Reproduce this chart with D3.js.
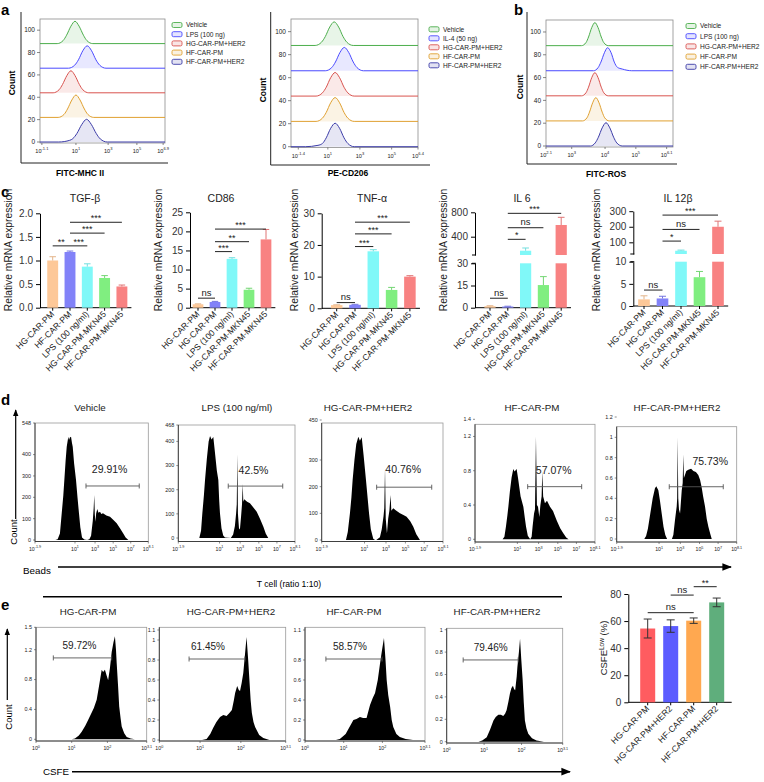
<!DOCTYPE html>
<html><head><meta charset="utf-8">
<script src="https://cdn.jsdelivr.net/npm/d3@7"></script>
<style>
body{margin:0;background:#fff}
text{font-family:"Liberation Sans",Arial,Helvetica,sans-serif}
</style></head>
<body><svg id="fig" width="764" height="782" xmlns="http://www.w3.org/2000/svg"></svg>
<script>
// ================= DATA =================
const overlayNamesLPS = ["Vehicle","LPS (100 ng)","HG-CAR-PM+HER2","HF-CAR-PM","HF-CAR-PM+HER2"];
const overlayNamesIL4 = ["Vehicle","IL-4 (50 ng)","HG-CAR-PM+HER2","HF-CAR-PM","HF-CAR-PM+HER2"];
const overlayColors = ["#4cae4c","#4a4aff","#d9534f","#e0a030","#3c3ca8"];
const overlayOffsets = [88,66,44,22,0];
const yTicksOverlay = [0,20,40,60,80,100];

const mhcCurves = [
 [[0,0],[0.55,0],[0.74,2.7],[0.85,7.5],[0.99,15.6],[1.12,20],[1.25,15.6],[1.39,7.5],[1.50,2.7],[1.69,0],[4,0]],
 [[0,0],[0.91,0],[1.11,2.7],[1.23,7.5],[1.37,15.6],[1.51,20],[1.65,15.6],[1.79,7.5],[1.91,2.7],[2.11,0],[4,0]],
 [[0,0],[0.42,0],[0.61,2.7],[0.72,7.4],[0.86,15.4],[0.99,19.7],[1.12,15.4],[1.26,7.4],[1.37,2.7],[1.56,0],[4,0]],
 [[0,0],[0.58,0],[0.77,2.7],[0.88,7.5],[1.02,15.6],[1.15,20],[1.28,15.6],[1.42,7.5],[1.53,2.7],[1.72,0],[4,0]],
 [[0,0],[0.6,0],[0.95,1.5],[1.05,3],[1.18,7.6],[1.34,15.8],[1.49,20.3],[1.64,15.8],[1.80,7.6],[1.93,2.7],[2.15,0],[4,0]]
];
const cd206Curves = [
 [[0,0],[0.76,0],[0.96,2.8],[1.08,7.7],[1.22,16],[1.36,20.5],[1.50,16],[1.64,7.7],[1.76,2.8],[1.96,0],[4,0]],
 [[0,0],[1.08,0],[1.28,2.7],[1.40,7.6],[1.54,15.8],[1.68,20.3],[1.82,15.8],[1.96,7.6],[2.08,2.7],[2.28,0],[4,0]],
 [[0,0],[0.79,0],[0.99,2.8],[1.11,7.7],[1.25,16],[1.39,20.5],[1.53,16],[1.67,7.7],[1.79,2.8],[1.99,0],[4,0]],
 [[0,0],[0.79,0],[0.99,2.8],[1.11,7.8],[1.25,16.2],[1.39,20.7],[1.53,16.2],[1.67,7.8],[1.79,2.8],[1.99,0],[4,0]],
 [[0,0],[0.45,0],[0.85,1.2],[0.99,2.8],[1.11,7.7],[1.25,16],[1.39,20.4],[1.53,16],[1.67,7.7],[1.79,2.8],[1.99,0],[4,0]]
];
const rosCurves = [
 [[0,0],[1.12,0],[1.26,2.7],[1.34,7.6],[1.44,15.8],[1.54,20.2],[1.64,15.8],[1.74,7.6],[1.82,2.7],[1.96,0],[4,0]],
 [[0,0],[1.5,0],[1.64,2.7],[1.73,7.6],[1.84,15.8],[1.94,20.2],[2.05,15.8],[2.15,7.6],[2.25,3],[2.4,1.5],[2.7,0],[4,0]],
 [[0,0],[1.12,0],[1.26,2.7],[1.34,7.6],[1.44,15.9],[1.54,20.3],[1.64,15.9],[1.74,7.6],[1.82,2.7],[1.96,0],[4,0]],
 [[0,0],[1.15,0],[1.29,2.7],[1.37,7.7],[1.47,15.9],[1.57,20.4],[1.67,15.9],[1.77,7.7],[1.85,2.7],[1.99,0],[4,0]],
 [[0,0],[1.4,0],[1.55,2.7],[1.65,7.7],[1.77,15.9],[1.89,20.4],[2.01,15.9],[2.13,7.7],[2.23,2.7],[2.4,0],[4,0]]
];
const mhcTickVals = [0.06,1.15,2.18,3.1,3.94];
const mhcTickLabs = ["10^-1.1","10^1","10^3","10^5","10^6.9"];
const cd206TickVals = [0.23,1.16,2.17,3.17,4.0];
const cd206TickLabs = ["10^-1.4","10^1","10^3","10^5","10^6.4"];
const rosTickVals = [0,0.81,1.86,2.83,3.8];
const rosTickLabs = ["10^2.1","10^3","10^4","10^5","10^6.1"];

const qCats1 = ["HG-CAR-PM","HF-CAR-PM","LPS (100 ng/ml)","HG-CAR-PM-MKN45","HF-CAR-PM-MKN45"];
const qCats2 = ["HG-CAR-PM","HG-CAR-PM","LPS (100 ng/ml)","HG-CAR-PM-MKN45","HF-CAR-PM-MKN45"];
const qColors = ["#fdc898","#8282f8","#80f8f8","#80ee80","#f88282"];
const tgfVals = [1.0,1.18,0.87,0.63,0.45];
const tgfErrs = [0.08,0.02,0.06,0.05,0.03];
const cd86Vals = [0.9,1.5,12.8,4.7,17.9];
const cd86Errs = [0.1,0.15,0.3,0.4,2.6];
const tnfVals = [1.0,1.1,18.0,5.8,10.0];
const tnfErrs = [0.1,0.15,0.5,0.8,0.3];
const il6Vals = [1.0,0.8,170,15.3,592];
const il6Errs = [0.3,0.2,45,5.7,126];
const il12Vals = [1.5,1.7,46,6.5,200];
const il12Errs = [0.8,0.5,4,1.3,36];
const tgfSig = [[0,1,1.31,"**"],[1,2,1.31,"***"],[1,3,1.58,"***"],[1,4,1.81,"***"]];
const cd86Sig = [[0,1,2.5,"ns"],[1,2,14.7,"***"],[1,3,17.3,"**"],[1,4,20.6,"***"]];
const tnfSig = [[0,1,1.8,"ns"],[1,2,19.5,"***"],[1,3,23.5,"***"],[1,4,27.2,"***"]];
const il6Sig = [[0,1,6.4,"ns"],[1,2,357,"*"],[1,3,547,"ns"],[1,4,783,"***"]];
const il12Sig = [[0,1,3.6,"ns"],[1,2,108,"*"],[1,3,183,"ns"],[1,4,275,"***"]];

const dTitles = ["Vehicle","LPS (100 ng/ml)","HG-CAR-PM+HER2","HF-CAR-PM","HF-CAR-PM+HER2"];
const dPercents = ["29.91%","42.5%","40.76%","57.07%","75.73%"];
const dTickVals = [0,3.53,5.3,6.9,8.45,10];
const dTickLabs = ["10^-1.9","10^1","10^3","10^5","10^7","10^8.1"];
const dYMax = [548,468,450,1.4,1.2];
const dYTicks = [[0,100,200,300,400,548],[0,100,200,300,400,468],[0,100,200,300,450],[0,0.4,0.8,1.2,1.4],[0,0.2,0.4,0.6,0.8,1,1.2]];
const dGates = [[4.5,9.2,253],[4.28,8.95,215],[4.53,9.07,198],[4.39,8.89,0.614],[4.38,8.88,0.514]];
const dHist = [
 [[0,0],[1.8,0],[2.0,3],[2.2,30],[2.36,126],[2.5,210],[2.59,281],[2.7,370],[2.8,437],[2.94,484],[3.0,468],[3.08,480],[3.18,484],[3.26,455],[3.33,437],[3.45,360],[3.62,281],[3.75,200],[3.88,126],[4.0,60],[4.15,12],[4.35,2],[4.6,0],[4.8,3],[4.95,20],[5.1,90],[5.18,150],[5.23,211],[5.28,120],[5.33,85],[5.4,125],[5.5,145],[5.6,128],[5.74,132],[5.85,122],[6.0,125],[6.3,115],[6.62,109],[6.9,95],[7.21,78],[7.5,55],[7.79,31],[8.0,12],[8.24,0],[10,0]],
 [[0,0],[1.8,0],[1.95,30],[2.06,102],[2.2,180],[2.29,240],[2.45,330],[2.6,400],[2.72,422],[2.85,408],[3.0,418],[3.15,350],[3.3,280],[3.43,240],[3.5,160],[3.57,102],[3.7,40],[3.85,10],[4.0,2],[4.5,0],[4.7,15],[4.85,50],[4.95,100],[5.01,140],[5.06,347],[5.11,100],[5.2,40],[5.28,35],[5.38,90],[5.46,140],[5.52,224],[5.57,150],[5.65,160],[5.72,157],[5.9,150],[6.14,144],[6.4,128],[6.72,109],[7.0,80],[7.29,47],[7.5,18],[7.71,0],[10,0]],
 [[0,0],[2.0,0],[2.15,30],[2.33,101],[2.45,160],[2.55,225],[2.7,300],[2.85,360],[3.02,387],[3.15,372],[3.3,385],[3.45,320],[3.65,225],[3.78,160],[3.9,101],[4.05,40],[4.25,5],[4.4,0],[4.5,0],[4.8,10],[4.95,40],[5.1,90],[5.16,120],[5.22,269],[5.28,80],[5.38,25],[5.48,80],[5.58,110],[5.68,169],[5.74,110],[5.9,119],[6.1,112],[6.45,100],[6.7,95],[7.0,87],[7.3,70],[7.55,50],[7.8,22],[8.1,0],[10,0]],
 [[0,0],[2.3,0],[2.45,0.03],[2.58,0.15],[2.7,0.28],[2.78,0.38],[2.9,0.55],[3.05,0.72],[3.19,0.82],[3.3,0.79],[3.47,0.82],[3.6,0.7],[3.8,0.5],[4.03,0.38],[4.15,0.25],[4.25,0.15],[4.4,0.04],[4.6,0],[4.72,0.03],[4.8,0.15],[4.92,0.3],[5.0,0.35],[5.08,1.2],[5.16,0.4],[5.25,0.38],[5.36,0.26],[5.45,0.4],[5.55,0.5],[5.61,0.79],[5.68,0.5],[5.83,0.42],[6.0,0.45],[6.25,0.38],[6.5,0.33],[6.81,0.22],[7.1,0.13],[7.36,0.07],[7.6,0.02],[7.8,0],[10,0]],
 [[0,0],[2.3,0],[2.45,0.03],[2.6,0.1],[2.8,0.25],[3.0,0.4],[3.19,0.5],[3.3,0.52],[3.47,0.48],[3.6,0.38],[3.75,0.25],[3.9,0.12],[4.05,0.04],[4.2,0],[4.6,0],[4.72,0.04],[4.86,0.19],[5.0,0.32],[5.04,0.4],[5.08,1.0],[5.13,0.4],[5.19,0.29],[5.28,0.25],[5.42,0.48],[5.5,0.55],[5.55,0.83],[5.6,0.6],[5.69,0.63],[5.8,0.67],[5.97,0.68],[6.2,0.69],[6.39,0.67],[6.6,0.66],[6.8,0.63],[6.95,0.58],[7.08,0.51],[7.2,0.42],[7.36,0.32],[7.5,0.2],[7.64,0.12],[7.8,0.05],[7.92,0],[10,0]]
];

const eTitles = ["HG-CAR-PM","HG-CAR-PM+HER2","HF-CAR-PM","HF-CAR-PM+HER2"];
const ePercents = ["59.72%","61.45%","58.57%","79.46%"];
const eTickVals = [0,1,2,3.1];
const eTickLabs = ["10^0","10^1","10^2","10^3.1"];
const eYMax = [1.5,1.1,1.1,1.0];
const eYTicks = [[0,0.4,0.8,1.2,1.5],[0,0.2,0.4,0.6,0.8,1,1.1],[0,0.2,0.4,0.6,0.8,1.1],[0,0.2,0.4,0.6,0.8,1]];
const eGates = [[0.485,2.12,1.09],[0.73,2.1,0.81],[0.54,1.99,0.81],[0.44,1.91,0.73]];
const eHist = [
 [[0,0],[1.0,0],[1.09,0.01],[1.2,0.05],[1.28,0.1],[1.38,0.18],[1.46,0.26],[1.55,0.35],[1.62,0.42],[1.70,0.53],[1.76,0.7],[1.84,0.93],[1.88,0.9],[1.93,0.93],[1.98,0.85],[2.02,0.79],[2.07,0.95],[2.12,1.17],[2.17,1.3],[2.21,1.38],[2.24,1.2],[2.26,1.02],[2.3,0.7],[2.33,0.44],[2.37,0.28],[2.40,0.17],[2.47,0.08],[2.54,0.03],[2.65,0.01],[2.77,0],[3.1,0]],
 [[0,0],[1.05,0],[1.16,0.01],[1.25,0.06],[1.32,0.12],[1.4,0.18],[1.49,0.23],[1.57,0.25],[1.65,0.24],[1.72,0.27],[1.78,0.3],[1.83,0.4],[1.86,0.47],[1.91,0.54],[1.95,0.5],[1.98,0.49],[2.02,0.57],[2.06,0.67],[2.1,0.85],[2.14,1.03],[2.18,0.8],[2.21,0.6],[2.24,0.4],[2.27,0.27],[2.31,0.18],[2.35,0.13],[2.45,0.05],[2.55,0.02],[2.7,0],[3.1,0]],
 [[0,0],[0.8,0],[0.9,0.01],[1.05,0.06],[1.15,0.13],[1.25,0.2],[1.33,0.21],[1.42,0.23],[1.5,0.22],[1.59,0.22],[1.68,0.35],[1.75,0.42],[1.81,0.47],[1.88,0.6],[1.94,0.77],[1.99,0.9],[2.04,1.02],[2.08,0.8],[2.11,0.6],[2.15,0.45],[2.2,0.33],[2.24,0.2],[2.28,0.13],[2.36,0.06],[2.45,0.03],[2.6,0.01],[2.79,0],[3.1,0]],
 [[0,0],[0.85,0],[0.95,0.01],[1.07,0.04],[1.16,0.11],[1.25,0.19],[1.31,0.22],[1.38,0.24],[1.45,0.24],[1.51,0.23],[1.56,0.25],[1.6,0.28],[1.65,0.36],[1.69,0.43],[1.73,0.48],[1.77,0.5],[1.8,0.47],[1.83,0.46],[1.87,0.58],[1.89,0.67],[1.93,0.8],[1.96,0.92],[1.99,0.75],[2.03,0.55],[2.06,0.35],[2.09,0.19],[2.13,0.12],[2.18,0.07],[2.28,0.03],[2.4,0.01],[2.6,0],[3.1,0]]
];
const csfeCats = ["HG-CAR-PM","HG-CAR-PM+HER2","HF-CAR-PM","HF-CAR-PM+HER2"];
const csfeVals = [54.5,56.3,60.3,73.8];
const csfeErrs = [7,4.6,2,3.2];
const csfeColors = ["#ff5c60","#5c5cff","#ffa850","#5fae7c"];
const csfeSig = [[0,2,66.2,"ns"],[1,2,79.2,"ns"],[2,3,85.4,"**"]];
const csfeTicks = [0,20,40,60,80];

// ================= DRAWING =================
const svg = d3.select("#fig");
const defs = svg.append("defs");
defs.append("marker").attr("id","arr").attr("viewBox","0 0 10 10").attr("refX",9).attr("refY",5)
  .attr("markerWidth",6).attr("markerHeight",6).attr("markerUnits","strokeWidth").attr("orient","auto")
  .append("path").attr("d","M0,1 L10,5 L0,9 z").attr("fill","#000");

function supText(g, x, y, lab, size, anchor){
  const parts = lab.split("^");
  const t = g.append("text").attr("x",x).attr("y",y).attr("font-size",size)
    .attr("text-anchor",anchor||"middle").attr("fill","#222");
  t.append("tspan").text(parts[0]);
  if(parts.length>1) t.append("tspan").attr("dy",-size*0.45).attr("font-size",size*0.72).text(parts[1]);
  return t;
}
function panelLetter(ch,x,y){
  svg.append("text").attr("x",x).attr("y",y).attr("font-size",15).attr("font-weight","bold").text(ch);
}
function line(g,x1,y1,x2,y2,stroke,w){
  return g.append("line").attr("x1",x1).attr("y1",y1).attr("x2",x2).attr("y2",y2)
    .attr("stroke",stroke||"#000").attr("stroke-width",w||1);
}
function styleAxis(ax){
  ax.select(".domain").attr("stroke","#000").attr("stroke-width",1);
  ax.selectAll(".tick line").attr("stroke","#000").attr("stroke-width",1);
  ax.selectAll(".tick text").attr("font-size",10).attr("fill","#333").attr("font-family",'"Liberation Sans",Arial,sans-serif');
}

// ---------- overlays (a, b)
function drawOverlay(P){
  const g = svg.append("g");
  const [bx0,bx1,by0,by1] = P.box;
  const x = d3.scaleLinear().domain([0,4]).range([bx0,bx1]);
  const y = d3.scaleLinear().domain([0,P.ymax]).range([P.zeroY,by0]);
  line(g,P.outer[0],P.outer[1],P.outer[0],P.outer[2],"#222",1);
  line(g,P.outer[0],P.outer[2],P.outer[3],P.outer[2],"#222",1);
  g.append("rect").attr("x",bx0).attr("y",by0).attr("width",bx1-bx0).attr("height",by1-by0)
    .attr("fill","none").attr("stroke","#8c8c8c").attr("stroke-width",0.8);
  yTicksOverlay.forEach(v=>{
    line(g,bx0-3,y(v),bx0,y(v),"#555",0.7);
    g.append("text").attr("x",bx0-5).attr("y",y(v)).attr("dy","0.35em").attr("text-anchor","end")
      .attr("font-size",6.5).attr("fill","#222").text(v);
  });
  P.tv.forEach((v,i)=>{
    line(g,x(v),by1,x(v),by1+2,"#555",0.7);
    supText(g,x(v),by1+10,P.tl[i],5.6);
  });
  const area = d3.area().x(d=>x(d[0])).curve(d3.curveMonotoneX);
  const ln = d3.line().x(d=>x(d[0])).curve(d3.curveMonotoneX);
  P.curves.forEach((c,i)=>{
    const off = overlayOffsets[i];
    g.append("path").datum(c).attr("d",area.y0(y(off)).y1(d=>y(off+d[1])))
      .attr("fill",overlayColors[i]).attr("fill-opacity",0.13);
    g.append("path").datum(c).attr("d",ln.y(d=>y(off+d[1])))
      .attr("fill","none").attr("stroke",overlayColors[i]).attr("stroke-width",1);
  });
  P.names.forEach((n,i)=>{
    const ly = P.leg[1]+i*P.leg[2];
    g.append("rect").attr("x",P.leg[0]).attr("y",ly-2.5).attr("width",10).attr("height",5).attr("rx",1.5)
      .attr("fill",overlayColors[i]).attr("fill-opacity",0.15).attr("stroke",overlayColors[i]).attr("stroke-width",0.9);
    g.append("text").attr("x",P.leg[0]+14).attr("y",ly).attr("dy","0.35em").attr("font-size",6.6).attr("fill","#222").text(n);
  });
  g.append("text").attr("transform",`translate(${P.countX},${P.countY}) rotate(-90)`).attr("text-anchor","middle")
    .attr("font-size",8.5).attr("font-weight","bold").text("Count");
  g.append("text").attr("x",P.xlab[0]).attr("y",P.xlab[1]).attr("text-anchor","middle")
    .attr("font-size",8.5).attr("font-weight","bold").text(P.xlabel);
}
panelLetter("a",1,15);
drawOverlay({box:[40,165,19,143],ymax:110,zeroY:142,outer:[21,12,163,168],tv:mhcTickVals,tl:mhcTickLabs,
  curves:mhcCurves,names:overlayNamesLPS,leg:[172,25,9.2],countX:15,countY:83,xlab:[80,176],xlabel:"FITC-MHC II"});
drawOverlay({box:[291,418,19,147.5],ymax:111,zeroY:146.7,outer:[270.7,12,165,430],tv:cd206TickVals,tl:cd206TickLabs,
  curves:cd206Curves,names:overlayNamesIL4,leg:[429,29.3,9],countX:266,countY:90,xlab:[348,176],xlabel:"PE-CD206"});
panelLetter("b",514,15);
drawOverlay({box:[546,673,20,147],ymax:110.5,zeroY:146,outer:[527,12,164,677],tv:rosTickVals,tl:rosTickLabs,
  curves:rosCurves,names:overlayNamesLPS,leg:[686,26,10.2],countX:523,countY:87,xlab:[606,177],xlabel:"FITC-ROS"});

// ---------- bar charts (c)
function drawBars(C){
  const g = svg.append("g");
  const xc = i => C.x0 + C.first + i*C.step;
  const bw = C.step*0.63;
  const xEnd = xc(C.vals.length-1) + C.step*0.55;
  let ymap, yl, yu;
  if(!C.broken){
    const y = d3.scaleLinear().domain(C.domain).range([C.yBot,C.yTop]);
    ymap = v=>y(v);
    const ax = g.append("g").attr("transform",`translate(${C.x0},0)`)
      .call(d3.axisLeft(y).tickValues(C.ticks).tickFormat(C.fmt).tickSize(4).tickSizeOuter(0));
    styleAxis(ax);
  } else {
    const B = C.broken;
    yl = d3.scaleLinear().domain(B.low).range(B.lowR);
    yu = d3.scaleLinear().domain(B.up).range(B.upR);
    ymap = v => v<=B.low[1] ? yl(v) : yu(v);
    const a1 = g.append("g").attr("transform",`translate(${C.x0},0)`)
      .call(d3.axisLeft(yl).tickValues(B.lowT).tickSize(4).tickSizeOuter(0));
    const a2 = g.append("g").attr("transform",`translate(${C.x0},0)`)
      .call(d3.axisLeft(yu).tickValues(B.upT).tickSize(4).tickSizeOuter(0));
    styleAxis(a1); styleAxis(a2);
    line(g,C.x0-3,B.lowR[1],C.x0+1,B.lowR[1],"#000",1);
    line(g,C.x0-3,B.upR[0],C.x0+1,B.upR[0],"#000",1);
  }
  line(g,C.x0,C.yBot,xEnd,C.yBot,"#000",1);
  C.vals.forEach((v,i)=>{
    const cx = xc(i);
    line(g,cx,C.yBot,cx,C.yBot+3,"#000",1);
    const col = C.colors[i];
    if(!C.broken){
      g.append("rect").attr("x",cx-bw/2).attr("y",ymap(v)).attr("width",bw).attr("height",C.yBot-ymap(v)).attr("fill",col);
    } else {
      const B = C.broken;
      const vl = Math.min(v,B.low[1]);
      g.append("rect").attr("x",cx-bw/2).attr("y",yl(vl)).attr("width",bw).attr("height",C.yBot-yl(vl)).attr("fill",col);
      if(v>B.up[0]) g.append("rect").attr("x",cx-bw/2).attr("y",yu(v)).attr("width",bw).attr("height",B.upR[0]-yu(v)).attr("fill",col);
    }
    const ye = ymap(v+C.errs[i]);
    const ec = d3.color(col).darker(0.3).formatHex();
    line(g,cx,ymap(v),cx,ye,ec,1);
    line(g,cx-bw*0.3,ye,cx+bw*0.3,ye,ec,1);
    g.append("text").attr("transform",`translate(${cx+2},${C.yBot+7}) rotate(-45)`).attr("text-anchor","end")
      .attr("font-size",8.6).attr("fill","#222").text(C.cats[i]);
  });
  C.sig.forEach(s=>{
    const yy = ymap(s[2]);
    line(g,xc(s[0]),yy,xc(s[1]),yy,"#222",1);
    g.append("text").attr("x",(xc(s[0])+xc(s[1]))/2).attr("y",yy-(s[3]==="ns"?2.5:1)).attr("text-anchor","middle")
      .attr("font-size",s[3]==="ns"?9.5:9).attr("fill","#222").text(s[3]);
  });
  g.append("text").attr("x",C.titleX).attr("y",202).attr("text-anchor","middle").attr("font-size",10.5).attr("fill","#222").text(C.title);
  g.append("text").attr("transform",`translate(${C.labX},${C.labY||250}) rotate(-90)`).attr("text-anchor","middle")
    .attr("font-size",10.3).attr("fill","#222").text("Relative mRNA expression");
}
panelLetter("c",1,197);
drawBars({x0:40,first:12.7,step:17.3,yTop:213.3,yBot:307.7,domain:[0,2],ticks:[0,0.5,1,1.5,2],fmt:d3.format(".1f"),
  vals:tgfVals,errs:tgfErrs,colors:qColors,cats:qCats1,sig:tgfSig,title:"TGF-β",titleX:85,labX:12});
drawBars({x0:190,first:8,step:17,yTop:212.3,yBot:307.7,domain:[0,25],ticks:[0,5,10,15,20,25],fmt:d3.format("d"),
  vals:cd86Vals,errs:cd86Errs,colors:qColors,cats:qCats2,sig:cd86Sig,title:"CD86",titleX:221,labX:162});
drawBars({x0:321.7,first:15,step:18.3,yTop:213.3,yBot:308.3,domain:[0,30],ticks:[0,10,20,30],fmt:d3.format("d"),
  vals:tnfVals,errs:tnfErrs,colors:qColors,cats:qCats2,sig:tnfSig,title:"TNF-α",titleX:372,labX:298});
drawBars({x0:475,first:15,step:17.8,yBot:307.7,broken:{low:[0,30],lowR:[307.7,263.3],lowT:[0,15,30],up:[100,800],upR:[255,212.3],upT:[400,800]},
  vals:il6Vals,errs:il6Errs,colors:qColors,cats:qCats2,sig:il6Sig,title:"IL 6",titleX:522,labX:447});
drawBars({x0:633.3,first:10.7,step:18.5,yBot:306,broken:{low:[0,10],lowR:[306,261.7],lowT:[0,5,10],up:[25,300],upR:[254,211.2],upT:[100,200,300]},
  vals:il12Vals,errs:il12Errs,colors:qColors,cats:qCats2,sig:il12Sig,title:"IL 12β",titleX:678,labX:600});

// ---------- flow histograms (d, e)
function drawHist(H){
  const g = svg.append("g");
  const [bx0,bx1,by0,by1] = H.box;
  const x = d3.scaleLinear().domain(H.xdom).range([bx0,bx1]);
  const y = d3.scaleLinear().domain([0,H.ymax]).range([H.zeroY,H.topY]);
  g.append("path").datum(H.pts).attr("d",d3.area().x(d=>x(d[0])).y0(y(0)).y1(d=>y(d[1])))
    .attr("fill","#000");
  g.append("rect").attr("x",bx0).attr("y",by0).attr("width",bx1-bx0).attr("height",by1-by0)
    .attr("fill","none").attr("stroke","#999").attr("stroke-width",0.8);
  line(g,bx0,by0,bx0,by1,"#333",0.9); line(g,bx0,by1,bx1,by1,"#333",0.9);
  H.yt.forEach(v=>{
    line(g,bx0-2,y(v),bx0,y(v),"#444",0.6);
    g.append("text").attr("x",bx0-4).attr("y",y(v)).attr("dy","0.35em").attr("text-anchor","end")
      .attr("font-size",5.4).attr("fill","#222").text(v);
  });
  H.tv.forEach((v,i)=>{
    line(g,x(v),by1,x(v),by1+2,"#444",0.6);
    supText(g,x(v),by1+9,H.tl[i],5.2);
  });
  const gy = y(H.gate[2]);
  line(g,x(H.gate[0]),gy,x(H.gate[1]),gy,"#555",0.9);
  line(g,x(H.gate[0]),gy-2.5,x(H.gate[0]),gy+2.5,"#555",0.9);
  line(g,x(H.gate[1]),gy-2.5,x(H.gate[1]),gy+2.5,"#555",0.9);
  g.append("text").attr("x",(x(H.gate[0])+x(H.gate[1]))/2+H.pdx).attr("y",gy-H.pdy).attr("text-anchor","middle")
    .attr("font-size",H.pfs).attr("fill","#222").text(H.pct);
  g.append("text").attr("x",H.titleX).attr("y",H.titleY).attr("text-anchor","middle")
    .attr("font-size",H.tfs).attr("fill","#222").text(H.title);
}
panelLetter("d",1,405);
const dBoxes = [[35,148.3,423,541.5],[178.3,295,425,541.5],[321.7,443,423,541.5],[475,595,424.3,542],[616.7,736.7,426.7,542]];
const dZero = [540,538,540,539.3,539];
const dTop = [423,425,420,419.3,417];
const dTitleX = [90,237,368,532,677];
const dPdx = [-3,-2,-1,-1,14];
const dPdy = [12.5,12.5,14.5,13,21.5];
dHist.forEach((pts,i)=>{
  drawHist({box:dBoxes[i],xdom:[0,10],ymax:dYMax[i],zeroY:dZero[i],topY:dTop[i],pts,yt:dYTicks[i],tv:dTickVals,tl:dTickLabs,
    gate:dGates[i],pct:dPercents[i],pdx:dPdx[i],pdy:dPdy[i],pfs:10.5,title:dTitles[i],titleX:dTitleX[i],titleY:411,tfs:9.8});
});
const deco = svg.append("g");
line(deco,15.7,519,15.7,410,"#000",1.2).attr("marker-end","url(#arr)");
deco.append("text").attr("transform","translate(16.5,532) rotate(-90)").attr("text-anchor","middle").attr("font-size",9.5).text("Count");
deco.append("text").attr("x",23).attr("y",574).attr("font-size",9.8).text("Beads");
line(deco,58,567,731,567,"#000",1.6).attr("marker-end","url(#arr)");
deco.append("text").attr("x",289).attr("y",587).attr("text-anchor","middle").attr("font-size",8.6).text("T cell (ratio 1:10)");

panelLetter("e",1,610);
const eBoxes = [[36,146.7,627.3,741],[159.3,285.7,627.3,741],[305,425,627.3,741],[446.7,562.7,628.3,743]];
const eZero = [739.3,740,740,741.7];
const eTop = [627.3,630,630,629.7];
const eTitleX = [88,231,354,497];
const ePdx = [-3,-9,-4,0];
const ePdy = [9.2,9,9,8.5];
eHist.forEach((pts,i)=>{
  drawHist({box:eBoxes[i],xdom:[0,3.1],ymax:eYMax[i],zeroY:eZero[i],topY:eTop[i],pts,yt:eYTicks[i],tv:eTickVals,tl:eTickLabs,
    gate:eGates[i],pct:ePercents[i],pdx:ePdx[i],pdy:ePdy[i],pfs:10,title:eTitles[i],titleX:eTitleX[i],titleY:615,tfs:9.8});
});
line(deco,43,596.7,562,596.7,"#000",1.6);
line(deco,7.3,700,7.3,629,"#000",1.2).attr("marker-end","url(#arr)");
deco.append("text").attr("transform","translate(12,717) rotate(-90)").attr("text-anchor","middle").attr("font-size",9.5).text("Count");
deco.append("text").attr("x",43).attr("y",775).attr("font-size",9.8).text("CSFE");
line(deco,72,771.7,570,771.7,"#000",1.6).attr("marker-end","url(#arr)");

// ---------- CSFE bar chart (e, right)
(function(){
  const g = svg.append("g");
  const x0 = 628.3, first = 19.4, step = 23, bw = 15;
  const xc = i => x0 + first + i*step;
  const y = d3.scaleLinear().domain([0,80]).range([702.3,594]);
  const ax = g.append("g").attr("transform",`translate(${x0},0)`)
    .call(d3.axisLeft(y).tickValues(csfeTicks).tickSize(4).tickSizeOuter(0));
  styleAxis(ax);
  line(g,x0,y(0),731.7,y(0),"#000",1);
  csfeVals.forEach((v,i)=>{
    const cx = xc(i);
    line(g,cx,y(0),cx,y(0)+3,"#000",1);
    g.append("rect").attr("x",cx-bw/2).attr("y",y(v)).attr("width",bw).attr("height",y(0)-y(v)).attr("fill",csfeColors[i]);
    const e = csfeErrs[i];
    line(g,cx,y(v-e),cx,y(v+e),"#333",1);
    line(g,cx-4,y(v-e),cx+4,y(v-e),"#333",1);
    line(g,cx-4,y(v+e),cx+4,y(v+e),"#333",1);
    g.append("text").attr("transform",`translate(${cx+2},${y(0)+7}) rotate(-45)`).attr("text-anchor","end")
      .attr("font-size",8.6).attr("fill","#222").text(csfeCats[i]);
  });
  csfeSig.forEach(s=>{
    const yy = y(s[2]);
    line(g,xc(s[0]),yy,xc(s[1]),yy,"#222",1);
    g.append("text").attr("x",(xc(s[0])+xc(s[1]))/2).attr("y",yy-(s[3]==="ns"?2.5:1)).attr("text-anchor","middle")
      .attr("font-size",s[3]==="ns"?9.5:9).attr("fill","#222").text(s[3]);
  });
  const t = g.append("text").attr("transform","translate(607,648) rotate(-90)").attr("text-anchor","middle")
    .attr("font-size",9.5).attr("fill","#222");
  t.append("tspan").text("CSFE");
  t.append("tspan").attr("dy",-3.5).attr("font-size",6.5).text("Low");
  t.append("tspan").attr("dy",3.5).text(" (%)");
})();
</script></body></html>
